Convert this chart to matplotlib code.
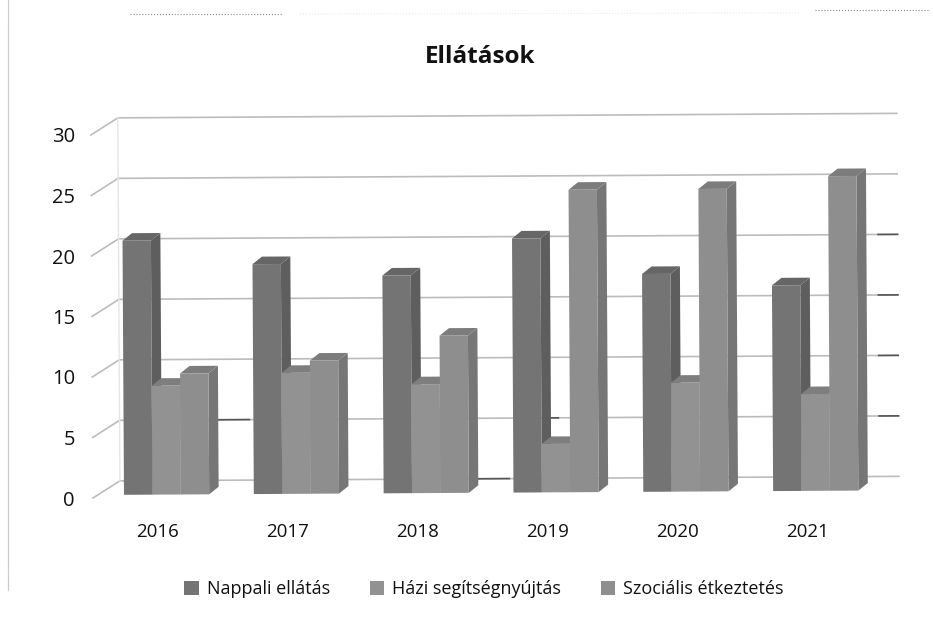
import matplotlib
matplotlib.use("Agg")
import matplotlib.pyplot as plt
from matplotlib.patches import Patch, Polygon
from matplotlib.lines import Line2D
from matplotlib.transforms import Affine2D

plt.rcParams['font.family'] = ['Open Sans', 'DejaVu Sans']

years = ['2016', '2017', '2018', '2019', '2020', '2021']
nappali = [21, 19, 18, 21, 18, 17]
hazi = [9, 10, 9, 4, 9, 8]
szocialis = [10, 11, 13, 25, 25, 26]
series_names = ['Nappali ellátás', 'Házi segítségnyújtás', 'Szociális étkeztetés']
y_ticks = [0, 5, 10, 15, 20, 25, 30]
title = 'Ellátások'

W, H = 933, 620
fig = plt.figure(figsize=(W / 100, H / 100), dpi=100, facecolor='white')
L, R, B, T = 93, 872, 498, 135
ax = fig.add_axes([L / W, 1 - B / H, (R - L) / W, (B - T) / H])
ax.set_xlim(0, 6)
ax.set_ylim(0, 30)
ax.patch.set_alpha(0)
for s in ax.spines.values():
    s.set_visible(False)

px_x = 6 / (R - L)
px_y = 30 / (B - T)
tilt = ax.transData + Affine2D().rotate_deg_around(L, H - B, 0.33)

# back wall grid
DX, DY = 27 * px_x, 17 * px_y
grid_col = '#bcbcbc'
for v in y_ticks:
    ax.plot([0, DX, 6 + DX], [v, v + DY, v + DY], color=grid_col, lw=1.2,
            transform=tilt, clip_on=False, zorder=1)
ax.plot([DX, DX], [DY, 30 + DY], color='#e6e6e6', lw=1, transform=tilt, clip_on=False, zorder=1)

# darker scan remnants on some grid lines
dark_marks = [(5, 0.76, 1.00), (0, 2.76, 3.00), (5, 3.26, 3.38),
              (20, 5.85, 6.0), (15, 5.85, 6.0), (10, 5.85, 6.0), (5, 5.85, 6.0)]
for v, x0, x1 in dark_marks:
    ax.plot([x0 + DX, x1 + DX], [v + DY, v + DY], color='#555555', lw=1.2,
            transform=tilt, clip_on=False, zorder=1.5)

# bars
face = ['#747474', '#929292', '#8e8e8e']
side = ['#5e5e5e', '#787878', '#767676']
top = ['#666666', '#7e7e7e', '#7c7c7c']
bw = 28.4 * px_x
bx, by = 9.5 * px_x, 7.5 * px_y
base = 3 * px_y
start = 31 * px_x
series = [nappali, hazi, szocialis]
for i in range(len(years)):
    for j, vals in enumerate(series):
        x0 = i + start + j * bw
        x1 = x0 + bw
        y0 = base
        y1 = base + vals[i]
        z = 3 + j * 0.1
        common = dict(transform=tilt, clip_on=False, zorder=z, lw=0)
        ax.add_patch(Polygon([(x1, y0), (x1 + bx, y0 + by), (x1 + bx, y1 + by), (x1, y1)], fc=side[j], **common))
        ax.add_patch(Polygon([(x0, y1), (x0 + bx, y1 + by), (x1 + bx, y1 + by), (x1, y1)], fc=top[j], **common))
        ax.add_patch(Polygon([(x0, y0), (x1, y0), (x1, y1), (x0, y1)], fc=face[j], **common))

ax.set_yticks(y_ticks)
ax.set_yticklabels([str(v) for v in y_ticks], fontsize=14.5, color='#111111')
ax.set_xticks([i + 0.5 for i in range(6)])
ax.set_xticklabels(years, fontsize=13.5, color='#111111')
ax.tick_params(axis='y', length=0, pad=13)
ax.tick_params(axis='x', length=0, pad=18)

fig.text(480 / W, 1 - 57 / H, title, fontsize=17.5, fontweight='bold', ha='center', va='center', color='#111111')

handles = [Patch(fc=c, ec='none') for c in face]
fig.legend(handles, series_names, loc='center', bbox_to_anchor=(484 / W, 1 - 589 / H), ncol=3,
           frameon=False, fontsize=13, handlelength=0.8, handleheight=0.8,
           handletextpad=0.45, columnspacing=2.2, labelcolor='#111111')

# scan artefacts along the page edge
fig.add_artist(Line2D([8 / W, 8 / W], [1 - 20 / H, 1 - 375 / H], color='#dddddd', lw=0.8))
fig.add_artist(Line2D([8 / W, 8 / W], [1 - 375 / H, 1 - 590 / H], color='#666666', lw=0.8, ls=':'))
fig.add_artist(Line2D([8 / W, 8 / W], [1 - 590 / H, 1], color='#cccccc', lw=0.8))
fig.add_artist(Line2D([130 / W, 282 / W], [1 - 14 / H, 1 - 14 / H], color='#888888', lw=0.8, ls=':'))
fig.add_artist(Line2D([815 / W, 930 / W], [1 - 10 / H, 1 - 10 / H], color='#888888', lw=0.8, ls=':'))
fig.add_artist(Line2D([300 / W, 800 / W], [1 - 14 / H, 1 - 13 / H], color='#e8e8e8', lw=0.8, ls=':'))

fig.savefig('out.png', dpi=100, facecolor='white')
